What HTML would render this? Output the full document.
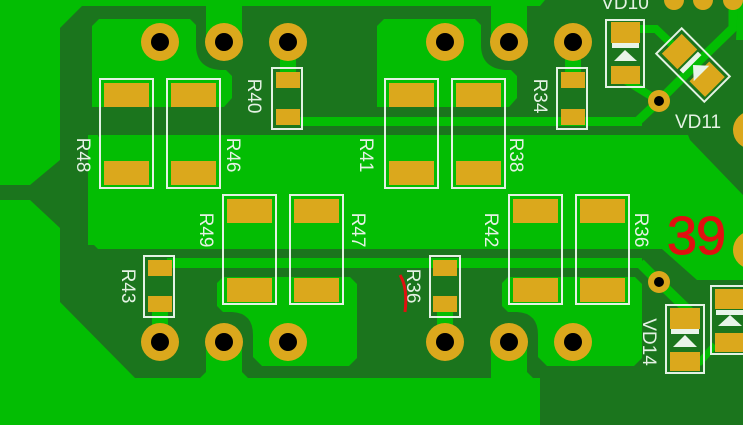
<!DOCTYPE html>
<html><head><meta charset="utf-8"><style>
html,body{margin:0;padding:0;background:#03bd03;}
svg{display:block}
text{font-family:"Liberation Sans",sans-serif;}
</style></head><body>
<svg width="743" height="425" viewBox="0 0 743 425" xmlns="http://www.w3.org/2000/svg">
<defs>
<g id="tht"><circle r="19" fill="#dba81c"/><circle r="9" fill="#000"/></g>
<g id="via"><circle r="11" fill="#dba81c"/><circle r="5" fill="#000"/></g>
</defs>
<rect width="743" height="425" fill="#03bd03"/>
<polygon fill="#1b751d" points="0,185 30,185 60,160 60,28 82,6 540,6 545,0 743,0 743,425 540,425 540,378 135,378 60,302 60,228 30,200 0,200"/>
<path fill="#03bd03" d="M92,26 L99,19 L190,19 L196,25 L196,45 Q196,68 220,70 L226,70 L232,76 L232,98 L224,107 L92,107 Z"/>
<path fill="#03bd03" d="M377,26 L384,19 L475,19 L481,25 L481,45 Q481,68 505,70 L511,70 L517,76 L517,98 L509,107 L377,107 Z"/>
<path fill="#03bd03" d="M206,0 L242,0 L242,42 A18,18 0 0 1 206,42 Z"/>
<path fill="#03bd03" d="M491,0 L527,0 L527,42 A18,18 0 0 1 491,42 Z"/>
<rect x="300" y="117" width="342" height="9" fill="#03bd03"/>
<polyline points="638,121 659,101 700,60 733,28 733,0" fill="none" stroke="#03bd03" stroke-width="9"/>
<polyline points="640,29 656,29 678,50" fill="none" stroke="#03bd03" stroke-width="8"/>
<line x1="625" y1="80" x2="659" y2="101" stroke="#03bd03" stroke-width="8"/>
<polygon fill="#03bd03" points="738,0 743,0 743,40 736,40"/>
<!-- central band -->
<polygon fill="#03bd03" points="92,143 100,135 688,135 690,140 743,195 743,280 697,280 662,249 98,249 88,239 92,236"/>
<rect x="88" y="135" width="10" height="110" fill="#03bd03"/>
<rect x="167" y="258" width="475" height="10" fill="#03bd03"/>
<polyline points="640,263 659,282 690,312" fill="none" stroke="#03bd03" stroke-width="10"/>
<polyline points="685,362 700,362 715,345" fill="none" stroke="#03bd03" stroke-width="7"/>
<path fill="#03bd03" d="M217,283 L223,277 L350,277 L357,284 L357,358 L349,366 L262,366 L253,357 L253,335 Q253,313 232,312 L223,312 L217,306 Z"/>
<path fill="#03bd03" d="M502,283 L508,277 L635,277 L642,284 L642,358 L634,366 L547,366 L538,357 L538,335 Q538,313 517,312 L508,312 L502,306 Z"/>
<path fill="#03bd03" d="M206,342 A18,18 0 0 1 242,342 L242,372 L248,378 L200,378 L206,372 Z"/>
<path fill="#03bd03" d="M491,342 A18,18 0 0 1 527,342 L527,372 L540,385 L540,425 L491,425 Z"/>
<rect x="280" y="55" width="16" height="18" fill="#03bd03"/>
<rect x="565" y="55" width="16" height="18" fill="#03bd03"/>
<rect x="152" y="312" width="16" height="16" fill="#03bd03"/>
<rect x="437" y="312" width="16" height="16" fill="#03bd03"/>

<use href="#tht" x="160" y="42"/><use href="#tht" x="224" y="42"/><use href="#tht" x="288" y="42"/>
<use href="#tht" x="445" y="42"/><use href="#tht" x="509" y="42"/><use href="#tht" x="573" y="42"/>
<use href="#tht" x="160" y="342"/><use href="#tht" x="224" y="342"/><use href="#tht" x="288" y="342"/>
<use href="#tht" x="445" y="342"/><use href="#tht" x="509" y="342"/><use href="#tht" x="573" y="342"/>
<use href="#tht" x="752" y="130"/><use href="#tht" x="752" y="250"/>
<use href="#via" x="659" y="101"/><use href="#via" x="659" y="282"/>
<g fill="#dba81c"><circle cx="674" cy="0" r="10"/><circle cx="703" cy="0" r="10"/><circle cx="733" cy="0" r="10"/></g>

<g fill="#dba81c">
<rect x="104" y="83" width="45" height="24"/><rect x="104" y="161" width="45" height="24"/>
<rect x="171" y="83" width="45" height="24"/><rect x="171" y="161" width="45" height="24"/>
<rect x="389" y="83" width="45" height="24"/><rect x="389" y="161" width="45" height="24"/>
<rect x="456" y="83" width="45" height="24"/><rect x="456" y="161" width="45" height="24"/>
<rect x="227" y="199" width="45" height="24"/><rect x="227" y="278" width="45" height="24"/>
<rect x="294" y="199" width="45" height="24"/><rect x="294" y="278" width="45" height="24"/>
<rect x="513" y="199" width="45" height="24"/><rect x="513" y="278" width="45" height="24"/>
<rect x="580" y="199" width="45" height="24"/><rect x="580" y="278" width="45" height="24"/>
<rect x="276" y="72" width="24" height="16"/><rect x="276" y="109" width="24" height="16"/>
<rect x="561" y="72" width="24" height="16"/><rect x="561" y="109" width="24" height="16"/>
<rect x="148" y="260" width="24" height="16"/><rect x="148" y="296" width="24" height="16"/>
<rect x="433" y="260" width="24" height="16"/><rect x="433" y="296" width="24" height="16"/>
<rect x="611" y="22" width="29" height="21"/><rect x="611" y="66" width="29" height="18"/>
<rect x="670" y="308" width="30" height="21"/><rect x="670" y="352" width="30" height="19"/>
<rect x="715" y="289" width="30" height="20"/><rect x="715" y="333" width="30" height="19"/>
</g>
<g fill="none" stroke="#e4f2e4" stroke-width="2">
<rect x="100" y="79" width="53" height="109"/><rect x="167" y="79" width="53" height="109"/>
<rect x="385" y="79" width="53" height="109"/><rect x="452" y="79" width="53" height="109"/>
<rect x="223" y="195" width="53" height="109"/><rect x="290" y="195" width="53" height="109"/>
<rect x="509" y="195" width="53" height="109"/><rect x="576" y="195" width="53" height="109"/>
<rect x="272" y="68" width="30" height="61"/><rect x="557" y="68" width="30" height="61"/>
<rect x="144" y="256" width="30" height="61"/><rect x="430" y="256" width="30" height="61"/>
<rect x="606" y="20" width="38" height="67"/>
<rect x="666" y="305" width="38" height="68"/>
<rect x="711" y="286" width="36" height="68"/>
</g>
<g fill="#e8f4e8">
<rect x="612" y="43" width="27" height="5"/><polygon points="614,61 637,61 625,50"/>
<rect x="671" y="329" width="28" height="5"/><polygon points="673,347 697,347 685,335"/>
<rect x="716" y="310" width="28" height="5"/><polygon points="718,326 742,326 730,315"/>
</g>
<g transform="translate(693,65) rotate(45)">
<rect x="-34" y="-18" width="68" height="36" fill="none" stroke="#e4f2e4" stroke-width="2"/>
<rect x="-30" y="-14" width="22" height="28" fill="#dba81c"/>
<rect x="9" y="-14" width="22" height="28" fill="#dba81c"/>
<rect x="-6" y="-13" width="5" height="26" fill="#e8f4e8"/>
<polygon points="0,0 12,-11 12,11" fill="#e8f4e8"/>
</g>

<g fill="#e4f2e4" font-size="19" text-anchor="middle">
<text transform="translate(77,155) rotate(90)">R48</text>
<text transform="translate(227,155) rotate(90)">R46</text>
<text transform="translate(248,96) rotate(90)">R40</text>
<text transform="translate(360,155) rotate(90)">R41</text>
<text transform="translate(510,155) rotate(90)">R38</text>
<text transform="translate(534,96) rotate(90)">R34</text>
<text transform="translate(200,230) rotate(90)">R49</text>
<text transform="translate(352,230) rotate(90)">R47</text>
<text transform="translate(122,286) rotate(90)">R43</text>
<text transform="translate(485,230) rotate(90)">R42</text>
<text transform="translate(635,230) rotate(90)">R36</text>
<text transform="translate(407,286) rotate(90)">R36</text>
<text transform="translate(643,342) rotate(90)">VD14</text>
<text x="625" y="9">VD10</text>
<text x="698" y="128">VD11</text>
</g>
<text x="667" y="254" font-size="54" fill="#e01010" stroke="#e01010" stroke-width="1" letter-spacing="-1">39</text>
<path d="M400,275 Q408,288 405,312" fill="none" stroke="#e01010" stroke-width="3"/>
</svg>
</body></html>
